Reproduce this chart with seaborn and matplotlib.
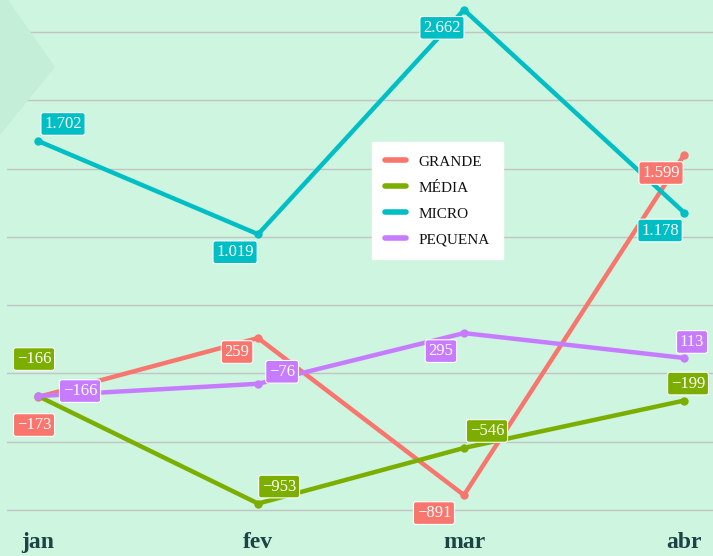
import pandas as pd
import numpy as np
import matplotlib.pyplot as plt
import matplotlib.dates as mdates
import seaborn as sns
from matplotlib.patches import Polygon

# data
months = ["jan", "fev", "mar", "abr"]
dates = pd.to_datetime(["2024-01-01", "2024-02-01", "2024-03-01", "2024-04-01"])
grande = [-173, 259, -891, 1599]
media = [-166, -953, -546, -199]
micro = [1702, 1019, 2662, 1178]
pequena = [-166, -76, 295, 113]

series = {"GRANDE": grande, "MÉDIA": media, "MICRO": micro, "PEQUENA": pequena}
colors = {"GRANDE": "#f8766d", "MÉDIA": "#7cae00", "MICRO": "#00bfc4", "PEQUENA": "#c77cff"}

# label offsets in pixels (x, y up)
offsets = {
    "GRANDE": [(-4, -28), (-21, -14), (-30, -18), (-23, -18)],
    "MÉDIA": [(-4, 37), (21, 17), (23, 17), (4, 17)],
    "MICRO": [(25, 17), (-23, -18), (-22, -18), (-24, -18)],
    "PEQUENA": [(42, 5), (24, 12), (-23, -18), (8, 16)],
}

rows = []
for name, vals in series.items():
    for d, v in zip(dates, vals):
        rows.append({"mes": d, "valor": v, "porte": name})
df = pd.DataFrame(rows)

bg = "#cdf5e0"
sns.set_style("white")
plt.rcParams["font.family"] = ["Liberation Serif", "DejaVu Serif"]

fig = plt.figure(figsize=(7.13, 5.56), dpi=100, facecolor=bg)
fig.patches.append(Polygon([(0, 556), (8, 556), (55, 489), (0, 421)], closed=True,
                           transform=None, facecolor="#c5eed9", edgecolor="none", zorder=0))
ax = fig.add_axes([7 / 713, 1 - 525 / 556, 706 / 713, 525 / 556])
ax.set_facecolor("none")

sns.lineplot(data=df, x="mes", y="valor", hue="porte", palette=colors,
             linewidth=3.2, marker="o", markersize=6, markeredgewidth=0, ax=ax)

def fmt(v):
    s = f"{abs(v):,}".replace(",", ".")
    return ("\u2212" if v < 0 else "") + s

xnum = mdates.date2num(dates)
for name, vals in series.items():
    for i, v in enumerate(vals):
        ax.annotate(fmt(v), (xnum[i], v), xytext=offsets[name][i], textcoords="offset pixels",
                    ha="center", va="center", color="white", fontsize=12,
                    bbox=dict(boxstyle="round,pad=0.2,rounding_size=0.15",
                              fc=colors[name], ec="white", lw=0.8), zorder=5)

ax.set_xlim(xnum[0] - 4.37, xnum[-1] + 4.08)
ax.set_ylim(-1110, 2734)
ax.set_yticks(np.arange(-1000, 2501, 500))
ax.set_yticklabels([])
ax.tick_params(axis="y", length=0)
ax.grid(axis="y", color="#c4c4c4", linewidth=1)
ax.set_xticks(xnum)
ax.set_xticklabels(months, fontsize=17, fontweight="bold", color="#1d4444")
ax.tick_params(axis="x", length=0, pad=5)
ax.set_xlabel("")
ax.set_ylabel("")
for s in ax.spines.values():
    s.set_visible(False)

leg = ax.legend(loc="upper left", bbox_to_anchor=(372 / 713, 1 - 142 / 556),
                bbox_transform=fig.transFigure, borderaxespad=0, frameon=True,
                fancybox=False, fontsize=11, handlelength=1.4, handletextpad=0.8,
                borderpad=0.85, labelspacing=0.8, title=None, edgecolor="white",
                facecolor="white", framealpha=1)
for h in leg.get_lines():
    h.set_linewidth(4)
    h.set_marker("")
for t in leg.get_texts():
    t.set_color("#111111")

fig.savefig("out.png", dpi=100, facecolor=bg)
